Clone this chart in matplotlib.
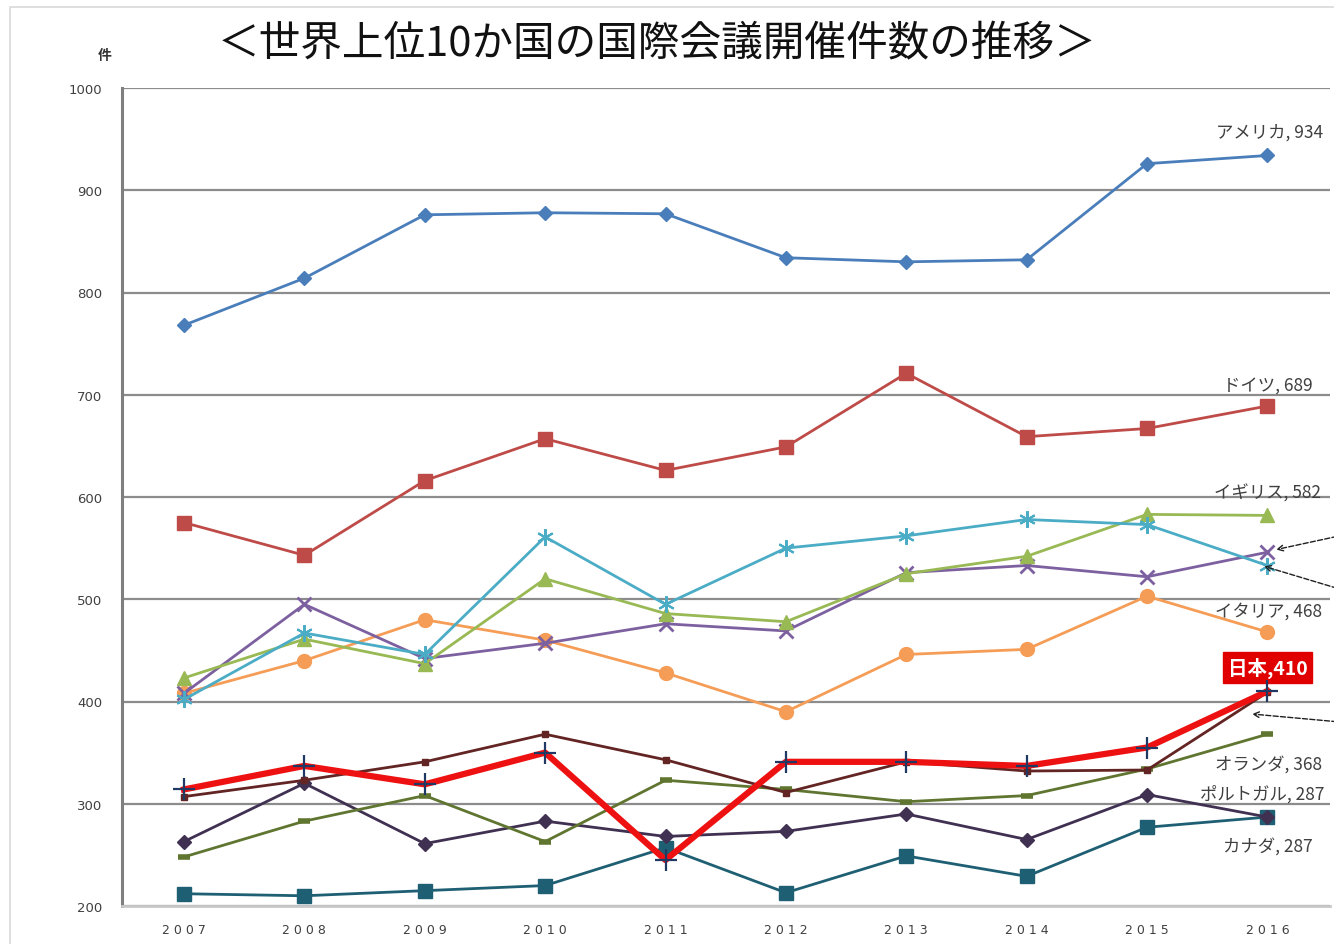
import matplotlib
matplotlib.use("Agg")
import matplotlib.pyplot as plt
from matplotlib.patches import Rectangle

plt.rcParams['font.family'] = ['Noto Sans CJK JP', 'DejaVu Sans']

years = [2007, 2008, 2009, 2010, 2011, 2012, 2013, 2014, 2015, 2016]

usa = [768, 814, 876, 878, 877, 834, 830, 832, 926, 934]
germany = [575, 543, 616, 657, 626, 649, 721, 659, 667, 689]
uk = [423, 461, 437, 520, 486, 478, 525, 542, 583, 582]
cyan_star = [402, 467, 446, 561, 495, 550, 562, 578, 573, 533]
purple_x = [408, 495, 442, 457, 476, 469, 526, 533, 522, 546]
italy = [408, 440, 480, 460, 428, 390, 446, 451, 503, 468]
brown = [307, 323, 341, 368, 343, 311, 341, 332, 333, 409]
netherlands = [248, 283, 308, 263, 323, 314, 302, 308, 334, 368]
portugal = [263, 320, 261, 283, 268, 273, 290, 265, 309, 287]
canada = [212, 210, 215, 220, 257, 213, 249, 229, 277, 287]
japan = [314, 337, 319, 350, 245, 341, 341, 337, 355, 410]

yticks = [200, 300, 400, 500, 600, 700, 800, 900, 1000]
year_labels = [' '.join(str(y)) for y in years]

fig = plt.figure(figsize=(13.34, 9.45), dpi=100)
ax = fig.add_axes([122 / 1334, 1 - 907 / 945, (1330 - 122) / 1334, (907 - 89) / 945])

# thin frame of the original picture
fig.patches.append(Rectangle((10 / 1334, -0.01), 1.2, 1 - 8 / 945 + 0.01,
                             transform=fig.transFigure, fill=False,
                             edgecolor='#d9d9d9', linewidth=1.2))

ax.set_xlim(2006.485, 2016.52)
ax.set_ylim(200, 1000)
ax.set_yticks(yticks)
ax.set_yticklabels([str(v) for v in yticks], family='DejaVu Sans', fontsize=9.5)
ax.set_xticks(years)
ax.set_xticklabels(year_labels, family='DejaVu Sans', fontsize=9)
ax.grid(axis='y', color='#8c8c8c', linewidth=1.6)
ax.set_axisbelow(True)
for s in ['top', 'right']:
    ax.spines[s].set_visible(False)
ax.spines['left'].set_color('#7f7f7f')
ax.spines['left'].set_linewidth(2.2)
ax.spines['bottom'].set_color('#c8c8c8')
ax.spines['bottom'].set_linewidth(2.0)
ax.tick_params(length=0, colors='#404040', pad=14)
ax.tick_params(axis='x', pad=12)

lw = 2.0
ax.plot(years, canada, color='#1f5f73', marker='s', markersize=10, lw=lw)
ax.plot(years, portugal, color='#403152', marker='D', markersize=7, lw=lw)
ax.plot(years, netherlands, color='#5f7530', marker='_', markersize=9, mew=4, lw=lw)
ax.plot(years, brown, color='#632523', marker='s', markersize=5, lw=lw)
ax.plot(years, italy, color='#f59d56', marker='o', markersize=10, lw=lw)
ax.plot(years, purple_x, color='#7d60a0', marker='x', markersize=10, mew=2, lw=lw)
ax.plot(years, uk, color='#98b954', marker='^', markersize=10, lw=lw)
ax.plot(years, cyan_star, color='#4bacc6', marker=(6, 2, 0), markersize=12, mew=1.5, lw=lw)
ax.plot(years, germany, color='#be4b48', marker='s', markersize=10, lw=lw)
ax.plot(years, usa, color='#4a7ebb', marker='D', markersize=7, lw=lw)
ax.plot(years, japan, color='#ee1111', lw=4.5, zorder=5)
ax.plot(years, japan, linestyle='none', marker='+', markersize=16, mew=1.6,
        color='#1f3864', zorder=6)

lab = dict(fontsize=12.5, color='#404040', ha='center', va='center')
ax.text(2016.02, 957, 'アメリカ, 934', **lab)
ax.text(2016, 710, 'ドイツ, 689', **lab)
ax.text(2016, 604, 'イギリス, 582', **lab)
ax.text(2016.01, 489, 'イタリア, 468', **lab)
ax.text(2016, 433, '日本,410', fontsize=14, color='white', fontweight='bold',
        ha='center', va='center',
        bbox=dict(boxstyle='square,pad=0.25', fc='#e00000', ec='#e00000'))
ax.text(2016.01, 339, 'オランダ, 368', **lab)
ax.text(2015.44, 310, 'ポルトガル, 287', fontsize=12.5, color='#404040',
        ha='left', va='center', clip_on=False)
ax.text(2016, 259, 'カナダ, 287', **lab)

arrow = dict(arrowstyle='->', color='#202020', lw=1.0, linestyle='--')
ax.annotate('', xy=(2016.05, 548), xytext=(2016.6, 562), arrowprops=arrow,
            annotation_clip=False)
ax.annotate('', xy=(2015.95, 533), xytext=(2016.6, 510), arrowprops=arrow,
            annotation_clip=False)
ax.annotate('', xy=(2015.85, 388), xytext=(2016.6, 380), arrowprops=arrow,
            annotation_clip=False)

fig.text(657 / 1334, 1 - 45 / 945, '＜世界上位10か国の国際会議開催件数の推移＞',
         fontsize=30, ha='center', va='center', color='#111111')
fig.text(105 / 1334, 1 - 56 / 945, '件', fontsize=10, fontweight='bold',
         ha='center', va='center', color='#333333')

fig.savefig('out.png', dpi=100)
